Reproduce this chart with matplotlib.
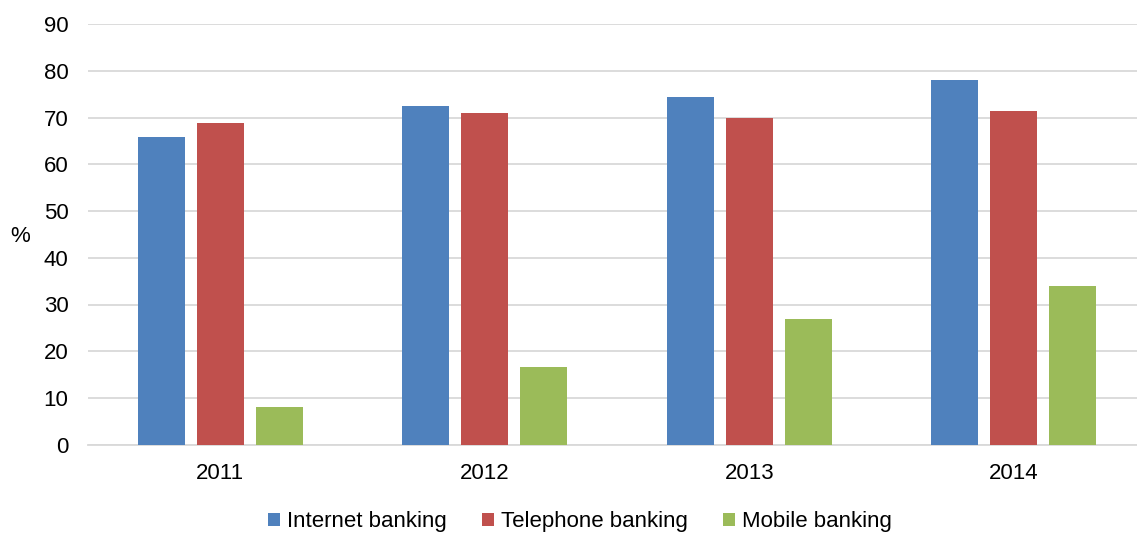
import matplotlib
matplotlib.use("Agg")
import matplotlib.pyplot as plt
import numpy as np

years = ["2011", "2012", "2013", "2014"]
internet = [65.9, 72.5, 74.5, 78.1]
telephone = [68.8, 70.9, 69.9, 71.4]
mobile = [8.0, 16.6, 26.9, 34.0]

series_names = ["Internet banking", "Telephone banking", "Mobile banking"]
colors = ["#4F81BD", "#C0504D", "#9BBB59"]

plt.rcParams['font.family'] = ['Liberation Sans', 'DejaVu Sans']

fig = plt.figure(figsize=(11.37, 5.35), dpi=100)
ax = fig.add_axes([88 / 1137, (535 - 444.6) / 535, 1058 / 1137, (444.6 - 24.3) / 535])

x = np.arange(len(years))
width = 0.177
step = 0.223
for i, (vals, name, col) in enumerate(zip([internet, telephone, mobile], series_names, colors)):
    ax.bar(x + (i - 1) * step, vals, width, color=col, label=name, zorder=3)

ax.set_xlim(-0.5, 3.5)
ax.set_ylim(0, 90)
ax.set_yticks(np.arange(0, 91, 10))
ax.set_xticks(x)
ax.set_xticklabels(years)
ax.yaxis.grid(True, color="#D9D9D9", linewidth=1.3, zorder=0)
ax.set_axisbelow(True)
for s in ["top", "right", "left"]:
    ax.spines[s].set_visible(False)
ax.spines["bottom"].set_color("#D9D9D9")
ax.spines["bottom"].set_linewidth(1.3)
ax.tick_params(axis="both", length=0, labelsize=16, colors="black")
ax.tick_params(axis="y", pad=14)
ax.tick_params(axis="x", pad=13)

ax.set_ylabel("%", rotation=0, fontsize=16, va="center", ha="center")
ax.yaxis.set_label_coords(-0.064, 0.495)

fig.legend(loc="center", bbox_to_anchor=(0.51, 1 - 522 / 535), ncol=3, frameon=False,
           fontsize=16, handlelength=0.55, handleheight=0.55, handletextpad=0.3,
           columnspacing=1.6)

fig.savefig("out.png", dpi=100)
